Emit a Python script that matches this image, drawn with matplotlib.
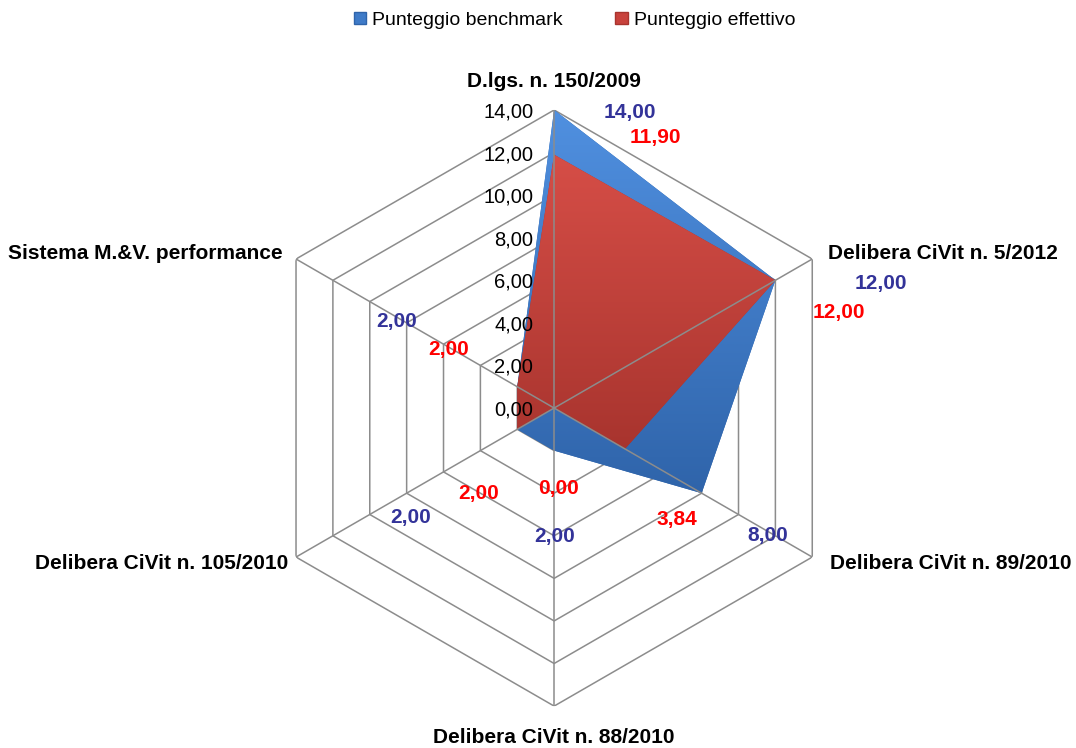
import numpy as np
import matplotlib
matplotlib.use('Agg')
import matplotlib.pyplot as plt
from matplotlib.image import AxesImage
from matplotlib.colors import LinearSegmentedColormap
from matplotlib.patches import Patch

categories = ["D.lgs. n. 150/2009", "Delibera CiVit n. 5/2012", "Delibera CiVit n. 89/2010",
              "Delibera CiVit n. 88/2010", "Delibera CiVit n. 105/2010", "Sistema M.&V. performance"]
benchmark = [14.00, 12.00, 8.00, 2.00, 2.00, 2.00]
effettivo = [11.90, 12.00, 3.84, 0.00, 2.00, 2.00]
rticks = [0, 2, 4, 6, 8, 10, 12, 14]
series_names = ["Punteggio benchmark", "Punteggio effettivo"]

# label layout (pixel offsets from the data point)
bench_lbl_off = [(76, -3), (105, -3), (66, -42), (0, -86), (-107, -88), (-121, 65)]
eff_lbl_off = [(101, 17), (63, -32), (52, -71), (4, -80), (-39, -64), (-69, 37)]
cat_off = [(0, 28, 'center'), (16, 6, 'left'), (18, -6, 'left'), (0, -31, 'center'),
           (-8, -6, 'right'), (-13, 6, 'right')]


def fmt(v):
    return f"{v:.2f}".replace('.', ',')


plt.rcParams['font.family'] = ['Liberation Sans', 'DejaVu Sans']

fig = plt.figure(figsize=(10.76, 7.48), dpi=100)
ax = fig.add_axes([0.238, 0.056, 0.554, 0.797], projection='polar')
ax.set_theta_offset(np.pi / 2)
ax.set_theta_direction(-1)
ax.set_ylim(0, 14)
ax.grid(False)
ax.spines['polar'].set_visible(False)
ax.set_xticks([])
ax.set_yticks([])
ax.patch.set_alpha(0)

n = len(categories)
theta = np.arange(n) * 2 * np.pi / n
tc = np.append(theta, theta[0])
rmax = rticks[-1]

grid_col = '#8c8c8c'
for r in rticks[1:]:
    ax.plot(tc, [r] * (n + 1), color=grid_col, lw=1.1, zorder=1)
for t in theta:
    ax.plot([t, t], [0, rmax], color=grid_col, lw=1.1, zorder=6)


def gradient_fill(values, top, bottom, z):
    vals = np.array(values, dtype=float)
    vc = np.append(vals, vals[0])
    poly, = ax.fill(tc, vc, facecolor=bottom, edgecolor='none', zorder=z)
    ys = 0.5 + 0.5 * vals * np.cos(theta) / rmax
    y0, y1 = ys.min(), ys.max()
    cmap = LinearSegmentedColormap.from_list('g', [bottom, top])
    im = AxesImage(ax, cmap=cmap, extent=(0, 1, y0, y1), transform=ax.transAxes,
                   origin='lower', interpolation='bilinear', zorder=z)
    im.set_data(np.linspace(0, 1, 256).reshape(-1, 1))
    im.set_clim(0, 1)
    im.set_clip_path(poly)
    ax.add_image(im)


gradient_fill(benchmark, '#5090E0', '#2F64AA', 2)
gradient_fill(effettivo, '#D64E47', '#A8342E', 3)

# radial tick labels
for r in rticks:
    ax.annotate(fmt(r), xy=(0, r), xytext=(-21, -2), textcoords='offset pixels',
                ha='right', va='center', fontsize=14.5, color='black', zorder=8)

# data labels
for i in range(n):
    ax.annotate(fmt(benchmark[i]), xy=(theta[i], benchmark[i]), xytext=bench_lbl_off[i],
                textcoords='offset pixels', ha='center', va='center', fontsize=15,
                fontweight='bold', color='#333399', zorder=9)
    ax.annotate(fmt(effettivo[i]), xy=(theta[i], effettivo[i]), xytext=eff_lbl_off[i],
                textcoords='offset pixels', ha='center', va='center', fontsize=15,
                fontweight='bold', color='#FF0000', zorder=9)

# category labels
for i in range(n):
    dx, dy, ha = cat_off[i]
    ax.annotate(categories[i], xy=(theta[i], rmax), xytext=(dx, dy), textcoords='offset pixels',
                ha=ha, va='center', fontsize=15, fontweight='bold', color='black',
                annotation_clip=False, zorder=9)

handles = [Patch(facecolor='#3F7BC8', edgecolor='#2F64AA', label=series_names[0]),
           Patch(facecolor='#C8423C', edgecolor='#A8342E', label=series_names[1])]
fig.legend(handles=handles, loc='upper center', bbox_to_anchor=(0.534, 1.008), ncol=2,
           frameon=False, fontsize=14, handlelength=0.65, handleheight=0.65,
           columnspacing=2.7, handletextpad=0.3)

fig.savefig('out.png', dpi=100, facecolor='white')
